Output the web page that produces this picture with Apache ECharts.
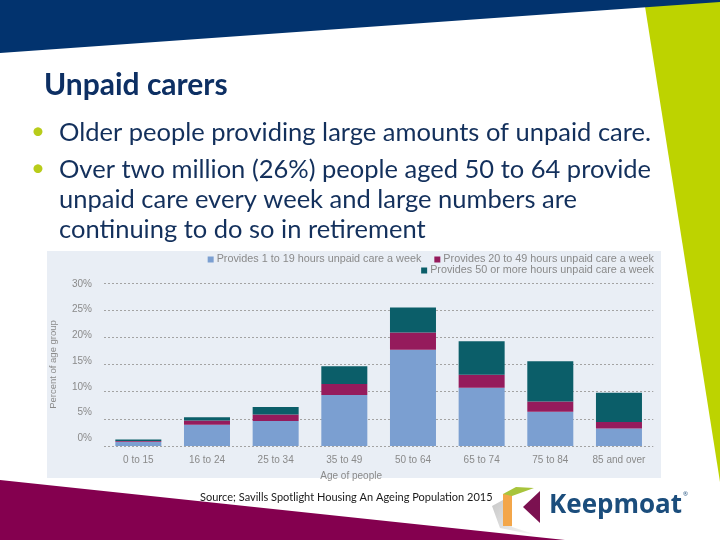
<!DOCTYPE html>
<html>
<head>
<meta charset="utf-8">
<style>
html,body{margin:0;padding:0;background:#ffffff;}
#chart{width:720px;height:540px;}
</style>
<script src="https://cdn.jsdelivr.net/npm/echarts@6/dist/echarts.min.js"></script>
</head>
<body>
<div id="chart"></div>
<script>
// ---- data ----
const categories = ['0 to 15', '16 to 24', '25 to 34', '35 to 49', '50 to 64', '65 to 74', '75 to 84', '85 and over'];
const seriesNames = [
  'Provides 1 to 19 hours unpaid care a week',
  'Provides 20 to 49 hours unpaid care a week',
  'Provides 50 or more hours unpaid care a week'
];
const hours1to19 = [0.8, 3.9, 4.6, 9.4, 17.7, 10.7, 6.3, 3.2];
const hours20to49 = [0.1, 0.8, 1.2, 2.0, 3.2, 2.4, 1.9, 1.2];
const hours50plus = [0.3, 0.6, 1.4, 3.3, 4.6, 6.2, 7.4, 5.4];
const yMin = 0, yMax = 30, yStep = 5;

const slideTitle = 'Unpaid carers';
const bulletLines = [
  {bullet: true, text: 'Older people providing large amounts of unpaid care.'},
  {bullet: true, text: 'Over two million (26%) people aged 50 to 64 provide'},
  {bullet: false, text: 'unpaid care every week and large numbers are'},
  {bullet: false, text: 'continuing to do so in retirement'}
];
const sourceText = 'Source; Savills Spotlight Housing An Ageing Population 2015';

const colors = ['#7b9fd1', '#951b5c', '#0b5e69'];
const chartFont = '"Liberation Sans", Arial, sans-serif';
const textGray = '#8a8a8a';

const chart = echarts.init(document.getElementById('chart'), null, {renderer: 'canvas'});

const lineYs = [133, 170, 200, 230];
const textEls = [];
bulletLines.forEach((l, i) => {
  if (l.bullet) {
    textEls.push({type: 'text', z: 5, style: {text: '\u2022', x: 31, y: lineYs[i] - 2, fill: '#b8cc1a',
      fontSize: 24, fontFamily: 'Lato', textVerticalAlign: 'middle', verticalAlign: 'middle'}});
  }
  textEls.push({type: 'text', z: 5, style: {text: l.text, x: 59, y: lineYs[i], fill: '#13305c',
    fontSize: 25.5, fontFamily: 'Lato', textVerticalAlign: 'middle', verticalAlign: 'middle'}});
});

const option = {
  backgroundColor: '#ffffff',
  animation: false,
  color: colors,
  textStyle: {fontFamily: chartFont},
  graphic: {elements: [
    // chart panel background
    {type: 'rect', z: -20, shape: {x: 47, y: 251, width: 614, height: 227}, style: {fill: '#e9eef5'}},
    // lime shape at right
    {type: 'polygon', z: -18, shape: {points: [[644, 0], [720, 0], [720, 482]]}, style: {fill: '#bdd300'}},
    // navy band at top
    {type: 'polygon', z: -17, shape: {points: [[0, 0], [720, 0], [720, 2], [0, 53]]}, style: {fill: '#02336e'}},
    // maroon shape at bottom left
    {type: 'polygon', z: -17, shape: {points: [[0, 480], [565, 540], [0, 540]]}, style: {fill: '#84004f'}},
    // title
    {type: 'text', z: 5, style: {text: slideTitle, x: 44, y: 85, fill: '#0d2f63', fontSize: 30,
      fontWeight: 'bold', fontFamily: 'Lato', textVerticalAlign: 'middle', verticalAlign: 'middle'}},
    ...textEls,
    // source
    {type: 'text', z: 5, style: {text: sourceText, x: 200, y: 497, fill: '#1a1a1a', fontSize: 11,
      fontFamily: 'Lato', textVerticalAlign: 'middle', verticalAlign: 'middle'}},
    // logo
    {type: 'polygon', z: 4, shape: {points: [[492, 506], [503, 500], [512, 527], [540, 536], [500, 528]]},
      style: {fill: {type: 'linear', x: 0, y: 0, x2: 1, y2: 1, colorStops: [{offset: 0, color: '#c8c8c8'}, {offset: 1, color: '#ffffff'}]}}},
    {type: 'rect', z: 5, shape: {x: 503, y: 494, width: 9, height: 32}, style: {fill: '#f3a64a'}},
    {type: 'polygon', z: 5, shape: {points: [[503, 494], [516, 487], [534, 488], [512, 496]]}, style: {fill: '#a8c43c'}},
    {type: 'polygon', z: 5, shape: {points: [[540, 491], [523, 507], [540, 523]]}, style: {fill: '#7b1150'}},
    {type: 'text', z: 5, style: {text: 'Keepmoat', x: 549, y: 506, fill: '#1b4d7c', fontSize: 26,
      fontWeight: 'bold', fontFamily: '"Open Sans"', textVerticalAlign: 'middle', verticalAlign: 'middle'}},
    {type: 'text', z: 5, style: {text: '\u00ae', x: 683, y: 494, fill: '#1b4d7c', fontSize: 6,
      fontFamily: '"Open Sans"', textVerticalAlign: 'middle', verticalAlign: 'middle'}}
  ]},
  legend: [
    {data: [seriesNames[0], seriesNames[1]], right: 66, top: 254, padding: 0, itemWidth: 6, itemHeight: 6,
      itemGap: 13, icon: 'rect', textStyle: {fontSize: 10.8, color: textGray, fontFamily: chartFont, padding: [0, 0, 0, -2]}},
    {data: [seriesNames[2]], right: 66, top: 265, padding: 0, itemWidth: 6, itemHeight: 6,
      icon: 'rect', textStyle: {fontSize: 10.8, color: textGray, fontFamily: chartFont, padding: [0, 0, 0, -2]}}
  ],
  grid: [
    {left: 104, right: 66.7, top: 283, bottom: 94, containLabel: false},
    {left: 104, right: 66.7, top: 284, bottom: 101.7, containLabel: false}
  ],
  xAxis: [
    {type: 'category', data: categories, gridIndex: 0,
      axisLine: {show: false}, axisTick: {show: false},
      axisLabel: {interval: 0, fontSize: 10, color: textGray, margin: 9, fontFamily: chartFont},
      name: 'Age of people', nameLocation: 'middle', nameGap: 25,
      nameTextStyle: {fontSize: 10, color: textGray, fontFamily: chartFont, padding: [0, 55, 0, 0]}},
    {type: 'category', data: categories, gridIndex: 1, show: false}
  ],
  yAxis: [
    {type: 'value', gridIndex: 0, min: yMin, max: yMax, interval: yStep,
      axisLabel: {show: false}, axisLine: {show: false}, axisTick: {show: false},
      splitLine: {show: true, lineStyle: {color: '#a3a3a3', width: 1, type: [2, 2]}},
      name: 'Percent of age group', nameLocation: 'middle', nameGap: 46, nameRotate: 90,
      nameTextStyle: {fontSize: 9.5, color: textGray, fontFamily: chartFont}},
    {type: 'value', gridIndex: 1, min: yMin, max: yMax, interval: yStep,
      axisLine: {show: false}, axisTick: {show: false}, splitLine: {show: false},
      axisLabel: {formatter: '{value}%', fontSize: 10, color: textGray, margin: 12, fontFamily: chartFont}}
  ],
  series: [
    {name: seriesNames[0], type: 'bar', stack: 'care', data: hours1to19, barCategoryGap: '33%', xAxisIndex: 0, yAxisIndex: 0},
    {name: seriesNames[1], type: 'bar', stack: 'care', data: hours20to49, barCategoryGap: '33%', xAxisIndex: 0, yAxisIndex: 0},
    {name: seriesNames[2], type: 'bar', stack: 'care', data: hours50plus, barCategoryGap: '33%', xAxisIndex: 0, yAxisIndex: 0}
  ]
};
chart.setOption(option);
</script>
</body>
</html>
